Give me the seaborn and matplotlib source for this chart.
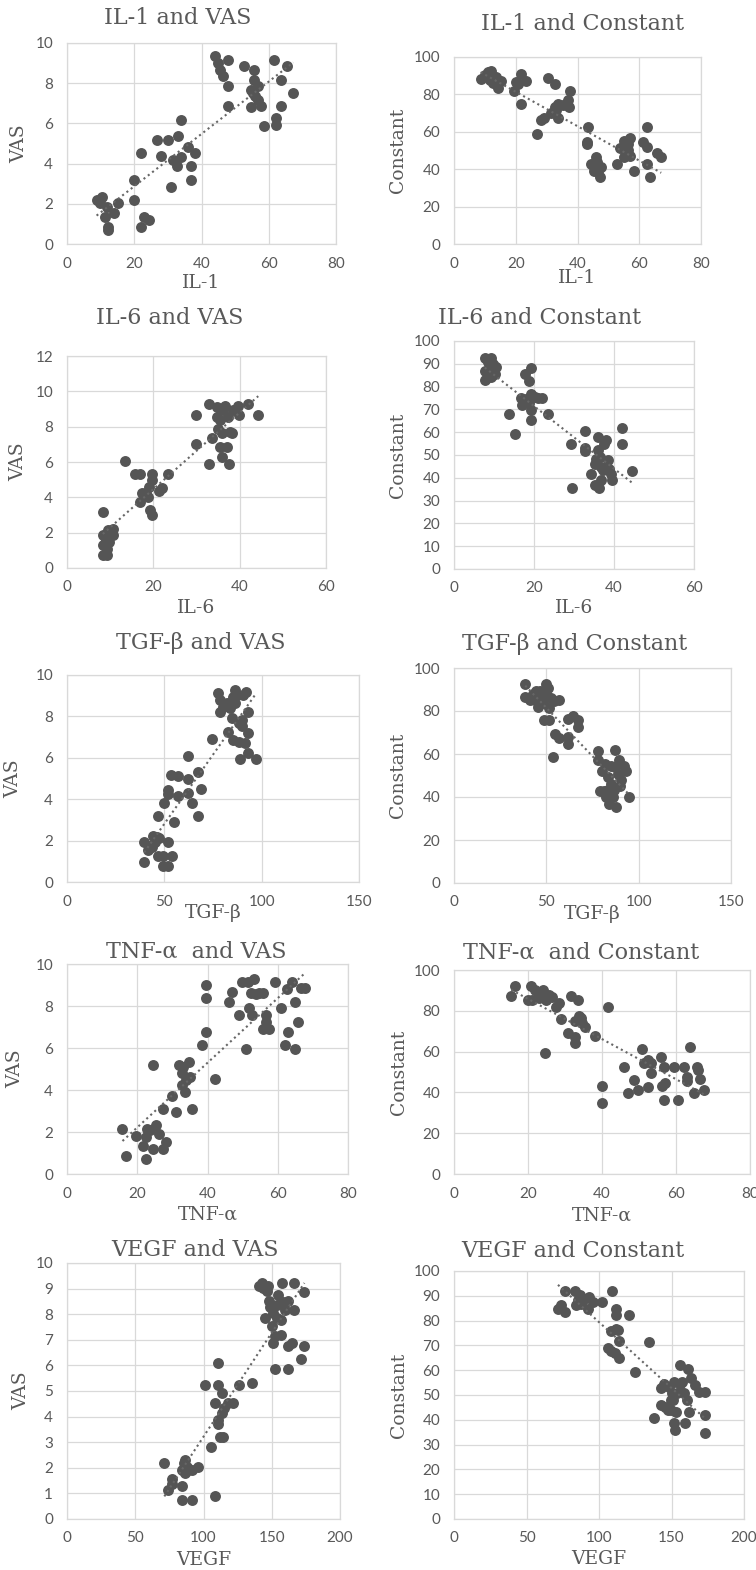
import numpy as np
import pandas as pd
import seaborn as sns
import matplotlib
matplotlib.use("Agg")
import matplotlib.pyplot as plt

# ---------------- data ----------------
il1_vas_x = [8.8, 10.3, 9.8, 11.8, 11.4, 12.1, 12.1, 14.1, 15.1,
             20, 20, 22, 22, 23, 24.3,
             26.7, 27.9, 29.9, 30.8, 31.6, 32.8, 32.9, 33.9, 33.9, 35.9, 36.9, 36.9, 38.1,
             44, 45, 45.5, 46.3, 47.8, 47.8, 47.8, 52.7,
             54.7, 54.7, 55.2, 55.7, 55.7, 55.9, 56.7, 56.7, 57.7, 58.7,
             61.5, 62.3, 62.3, 63.6, 63.6, 65.5, 67.3]
il1_vas_y = [2.19, 2.36, 2.03, 1.86, 1.36, 0.86, 0.7, 1.53, 2.06,
             3.19, 2.19, 4.55, 0.86, 1.36, 1.2,
             5.18, 4.38, 5.18, 2.86, 4.19, 3.9, 5.35, 6.18, 4.35, 4.85, 3.9, 3.19, 4.52,
             9.33, 9.0, 8.67, 8.34, 9.17, 7.84, 6.88, 8.84,
             7.67, 6.84, 7.5, 8.67, 8.17, 7.34, 7.84, 7.18, 6.88, 5.85,
             9.17, 5.93, 6.26, 8.17, 6.88, 8.84, 7.5]

il1_con_x = [8.6, 11, 12.1, 11.5, 12.6, 14.2, 15.3, 13.7, 9.9,
             19.4, 20.7, 21.8, 23.4, 21.8, 20.2,
             30.4, 32.6, 27, 28.3, 29.3, 31.5, 32.6, 33.6, 33.6, 35.3, 36.9, 37.4, 37.7, 33.1,
             43.3, 43.1, 43.1, 44.4, 45.5, 46.0, 46.4, 46.6, 47.7, 47.4, 45.5,
             52.8, 53.9, 55.2, 56.3, 55.7, 57.1, 57.1, 58.3, 55, 56.3,
             61.2, 62.6, 62.6, 62.6, 63.6, 65.8, 67.1]
il1_con_y = [88.4, 92, 92.5, 87.5, 86, 83.6, 87.2, 89.3, 90.2,
             81.9, 85.8, 90.7, 87.2, 74.7, 86.7,
             89, 85.4, 58.7, 66.2, 67.6, 69.8, 73.3, 75.1, 67.6, 74.2, 76.9, 73, 81.9, 71.5,
             62.3, 54.6, 53.4, 42.7, 41.3, 46.6, 43.9, 39.1, 41.3, 35.9, 38.8,
             42.7, 51.1, 55.2, 53.7, 48.4, 56.9, 46.9, 39.1, 46.6, 50.2,
             54.6, 52, 62.3, 42.7, 35.6, 48.4, 46.3]

il6_vas_x = [8.3, 8.3, 8.4, 8.4, 9.2, 9.0, 9.5, 10.3, 10.7, 10.7, 9.7, 9.2,
             13.5, 15.8, 16.8, 16.8, 17.3, 18.2, 18.8, 19.0, 19.6, 19.8, 19.2, 19.8, 21.2, 22.1, 23.5,
             29.8, 29.8, 33, 33, 33.7, 34.8, 35, 35.4, 35.8, 36.2, 36.6, 37, 37.4, 37.6, 37.8,
             38.3, 38.5, 39.7, 39.9, 42, 44.3, 35.4, 35.8, 34.7]
il6_vas_y = [3.18, 1.85, 1.29, 0.72, 0.72, 1.57, 2.14, 1.95, 2.23, 1.85, 1.47, 1.10,
             6.05, 5.31, 5.31, 3.74, 4.22, 4.22, 4.03, 4.59, 4.97, 5.31, 3.27, 2.99, 4.37, 4.54, 5.31,
             8.66, 7.01, 9.26, 5.88, 7.37, 9.13, 7.86, 6.86, 6.29, 8.94, 9.17, 6.86, 8.56, 5.86, 7.71,
             7.62, 8.94, 9.17, 8.66, 9.28, 8.66, 8.37, 7.62, 8.56]

il6_con_x = [7.8, 8.5, 9.3, 9.75, 7.7, 7.7, 8.5, 9.3, 10.3, 10.6, 9.2, 8.9,
             13.75, 15.3, 16.8, 17, 17.7, 18.1, 18.7, 18.7, 19.3, 19.3, 19.3, 19.3, 20.2, 21, 22.1, 23.5,
             29.3, 29.6, 32.7, 32.8, 32.8, 34.3, 35.2, 35.3, 35.6, 36, 36, 36.2, 36.8, 36.8, 37.5,
             37.9, 38.5, 38.75, 39.3, 39.6, 42, 42, 44.5, 36.4, 37.25]
il6_con_y = [92.7, 90.8, 92.7, 90, 82.7, 86.8, 84.2, 84.2, 85.4, 88.6, 87.1, 88.6,
             67.8, 59.4, 75.1, 71.8, 85.7, 74.4, 82.5, 73, 88.2, 76.6, 69.6, 65.2, 75.4, 75.1, 75.1, 67.8,
             54.7, 35.5, 60.5, 53.2, 51.8, 41.5, 36.7, 46.2, 48.4, 57.9, 52, 35.5, 44.7, 38.9, 54.7,
             56.4, 47.7, 44, 41.8, 38.9, 62, 54.7, 43, 49.1, 43.3]

tgf_vas_x = [39.7, 39.7, 41.4, 42.6, 44.3, 45.2, 46.4, 46.9, 47.4, 49.5, 52.1, 49.5, 51.7, 53.8, 43.5,
             46.6, 49.8, 51.7, 51.7, 53.3, 55.1, 56.8, 56.8, 62, 62.3, 62, 64, 67.1, 67.1, 68.8,
             74.5, 77.4, 78.6, 78.6, 80.3, 82, 82.9, 84.6, 85.4, 86.3, 86.3, 87.5, 88.5, 88.5, 88.9,
             90.1, 90.6, 91.4, 93.2, 93.2, 93.2, 92, 97.1, 85.4, 83.7, 89.7]
tgf_vas_y = [0.95, 1.91, 1.56, 1.75, 2.2, 1.91, 2.17, 1.24, 2.12, 0.76, 0.76, 1.24, 1.91, 1.27, 1.67,
             3.17, 3.84, 4.45, 4.26, 5.18, 2.88, 5.13, 4.16, 4.97, 6.11, 4.32, 3.84, 5.29, 3.17, 4.49,
             6.91, 9.15, 8.79, 8.23, 8.47, 8.63, 7.27, 7.91, 6.86, 9.28, 8.63, 9.04, 7.7, 6.74, 5.93,
             7.54, 9.04, 6.7, 8.23, 7.22, 6.25, 9.2, 5.93, 8.95, 8.39, 7.83]

tgf_con_x = [38.6, 38.6, 40.9, 42.7, 44.5, 45.4, 47.2, 48.1, 49.6, 50, 50.8, 51.7, 52.6, 54, 57.1,
             49, 51.7, 46.3, 43.6,
             54.8, 56.8, 53.5, 62, 64.3, 67.1, 67.1, 62, 62,
             78.2, 78.2, 78.8, 81.1, 80, 81.5, 83.3, 83.3, 84.2, 85.1, 86, 87.3, 87.4, 87.8,
             88.7, 89.1, 90.1, 90.5, 92.3, 93.2, 94.5, 85.1, 86.9, 82.4]
tgf_con_y = [92.7, 86.5, 85.2, 88, 89.1, 81.8, 86.5, 83.7, 92.7, 88, 90.7, 81.4, 86, 84.5, 84.9,
             75.6, 75.6, 89.1, 85.2,
             69.4, 67.4, 58.5, 76.2, 77.5, 75.6, 72.5, 67.9, 64.8,
             61.6, 57, 43, 43, 52.3, 55.4, 49.5, 43.3, 36.8, 46.1, 40.2, 62, 53.9, 35.2,
             50.8, 57, 44.9, 47.7, 54.2, 52.3, 40.2, 54.2, 43.3, 40.2]

tnf_vas_x = [15.8, 16.8, 19.6, 21.5, 22.5, 22.5, 22.7, 23.6, 24.4, 24.4, 25.3, 26.3, 27.2, 27.2, 28.1,
             30, 31, 31.9, 32.6, 32.6, 33.5, 33.8, 34.8, 35, 35.7, 32.9,
             38.3, 39.5, 39.5, 39.5, 42.2,
             46, 47.1, 49, 49.7, 50.9, 51.4, 51.8, 52.5, 52.8, 53.3, 53.7, 54.7, 55.8, 56.6, 56.6,
             55.8, 57.5, 59.1, 61, 62, 62.9, 62.7, 64, 64.8, 64.8, 65.8, 66.7, 67.7]
tnf_vas_y = [2.14, 0.87, 1.83, 1.35, 1.78, 0.71, 2.13, 2.1, 1.19, 5.19, 2.33, 1.9, 1.19, 3.1, 1.51,
             3.73, 2.97, 5.19, 4.79, 4.24, 3.92, 4.48, 5.35, 4.63, 3.1, 5.11,
             6.14, 9, 8.37, 6.78, 4.52,
             8.21, 8.68, 7.57, 9.16, 5.95, 9.16, 7.89, 8.6, 7.57, 9.27, 8.57, 8.63, 8.63, 7.57, 7.25,
             6.9, 6.9, 9.16, 7.89, 6.14, 6.78, 8.79, 9.16, 5.95, 8.21, 7.25, 8.84, 8.84]

tnf_con_x = [15.5, 16.5, 20, 20.9, 21, 21.8, 22.8, 23.1, 24, 24.9, 25.8, 26.4, 27.6, 28.5, 29,
             31.5, 33.6, 30.9, 32.6, 32.7, 33.7, 32.7, 34.4, 34.5, 35.4, 38, 24.7, 41.5, 39.9, 39.9,
             46, 46.9, 48.7, 49.8, 50.7, 51.4, 52.3, 52.5, 53.2, 53.2, 55.9, 56.2, 56.8, 57, 56.8,
             59.4, 60.6, 62.2, 62.9, 63.1, 63.8, 64.9, 65.8, 66, 66.5, 67.6]
tnf_con_y = [87.3, 92.2, 85.3, 92.2, 85.3, 90.2, 88.6, 86.1, 90.2, 85.3, 87.7, 86.9, 82, 84, 75.8,
             87.3, 85.3, 68.9, 67.3, 64, 77.5, 75.2, 76.3, 73.9, 72.2, 67.6, 59.5, 82, 43.1, 34.6,
             52.6, 39.5, 46.1, 41.2, 61.1, 54.2, 42.5, 55.9, 54.2, 49.3, 57.5, 43.1, 52.6, 44.4, 36.3,
             52.6, 36.3, 52.6, 47.7, 45.8, 62.4, 39.5, 52.3, 51, 46.4, 41.2]

vegf_vas_x = [71.3, 74.2, 76.7, 77.2, 84, 84, 84, 86.4, 86.4, 87.7, 91.8, 91.8, 95.7, 108.4, 86, 88.9,
              101.1, 105.2, 108.4, 110.9, 110.9, 110.9, 110.9, 112.1, 114, 113.3, 113.3, 115, 118.2,
              121.4, 125.8, 135.5,
              140.9, 142.6, 143.8, 145, 146.3, 147.5, 148.2, 149.9, 151.2, 151.2, 152.4, 152.4, 153.6,
              154.1, 154.8, 156.8, 156.8, 157.3, 158, 159.7, 161.7, 162.1, 162.1, 164.6, 166.5, 166.5,
              171.4, 173.9, 173.9, 148.7]
vegf_vas_y = [2.19, 1.15, 1.38, 1.58, 0.76, 1.28, 1.93, 2.3, 1.8, 2.04, 0.76, 1.91, 2.04, 0.89, 2.17, 1.91,
              5.22, 2.82, 4.54, 6.11, 5.22, 3.73, 3.86, 3.21, 3.21, 4.91, 4.15, 4.32, 4.54,
              4.54, 5.22, 5.33,
              9.11, 9.22, 9.02, 7.87, 8.89, 9.11, 8.5, 7.52, 8.04, 6.87, 7.15, 5.85, 8.37,
              7.85, 8.76, 7.78, 7.2, 9.22, 8.46, 8.17, 8.5, 6.74, 5.85, 6.87, 9.22, 8.17,
              6.24, 6.76, 8.85, 8.3]

vegf_con_x = [71.7, 74, 76.8, 76.8, 83.7, 84.4, 85.5, 86.7, 89.7, 92.4, 93.1, 95.9, 102.1, 109.2,
              111.5, 111.5, 111.5, 108.5, 113.1, 113.6, 113.6, 106.2, 108.5, 111.3, 120.5, 124.6,
              134.3, 87.8,
              137.9, 142.5, 143, 144.8, 145.7, 147.6, 149.4, 149.9, 150.3, 151.7, 151.7, 152.2, 152.9,
              154, 155.6, 155.6, 157.2, 158.6, 159.1, 160.9, 161.4, 161.8, 163.7, 166.4, 168.7, 173.3,
              173.3, 173.3, 150.8, 148.5]
vegf_con_y = [84.8, 86.2, 83.5, 91.9, 91.9, 86.2, 88.2, 90.2, 88.8, 84.8, 89.5, 87.5, 87.5, 91.9,
              84.8, 82.1, 76.7, 75.8, 76.1, 71.8, 65.1, 69.1, 67.7, 66.9, 82.1, 59.3,
              71.4, 86.8,
              40.9, 53, 45.8, 54.3, 45.2, 43.8, 47.8, 44.1, 50.8, 55.2, 38.7, 36, 43.1,
              50.8, 54.6, 62, 55.2, 50.8, 38.7, 48.1, 60.6, 43.1, 57, 53.9, 51.2, 51.2,
              41.8, 34.8, 48.1, 53.2]

titles = ["IL-1 and VAS", "IL-1 and Constant", "IL-6 and VAS", "IL-6 and Constant",
          "TGF-β and VAS", "TGF-β and Constant", "TNF-α  and VAS", "TNF-α  and Constant",
          "VEGF and VAS", "VEGF and Constant"]
xlabels = ["IL-1", "IL-1", "IL-6", "IL-6", "TGF-β", "TGF-β", "TNF-α", "TNF-α", "VEGF", "VEGF"]
ylabels = ["VAS", "Constant"] * 5
xticks_list = [[0, 20, 40, 60, 80]] * 2 + [[0, 20, 40, 60]] * 2 + [[0, 50, 100, 150]] * 2 + \
              [[0, 20, 40, 60, 80]] * 2 + [[0, 50, 100, 150, 200]] * 2
yticks_list = [list(range(0, 11, 2)), list(range(0, 101, 20)),
               list(range(0, 13, 2)), list(range(0, 101, 10)),
               list(range(0, 11, 2)), list(range(0, 101, 20)),
               list(range(0, 11, 2)), list(range(0, 101, 20)),
               list(range(0, 11, 1)), list(range(0, 101, 10))]

series = [(il1_vas_x, il1_vas_y), (il1_con_x, il1_con_y), (il6_vas_x, il6_vas_y),
          (il6_con_x, il6_con_y), (tgf_vas_x, tgf_vas_y), (tgf_con_x, tgf_con_y),
          (tnf_vas_x, tnf_vas_y), (tnf_con_x, tnf_con_y), (vegf_vas_x, vegf_vas_y),
          (vegf_con_x, vegf_con_y)]

# ---------------- layout (pixels) ----------------
W, H = 756, 1570
# left, right, top, bottom of plot area
boxes = [(67, 336, 43, 244), (454, 701, 57, 244),
         (67, 326, 356, 568), (454, 694, 341, 569),
         (67, 359, 675, 882), (454, 731, 668, 883),
         (67, 348, 964, 1174), (454, 750, 970, 1174),
         (67, 340, 1263, 1519), (454, 744, 1271, 1519)]
title_pos = [(178, 18), (583, 24), (170, 318), (540, 318), (201, 643), (575, 644),
             (196, 952), (581, 953), (195, 1250), (573, 1251)]
ylabel_x = [19, 398, 18, 398, 13, 398, 15, 399, 21, 399]
xlabel_y = [283, 278, 608, 608, 913, 914, 1215, 1216, 1560, 1559]

sns.set_theme(style="white")
plt.rcParams["font.family"] = ["Lato", "DejaVu Sans"]

TXT = "#595959"
DOT = "#555555"
GRID = "#d9d9d9"
SERIF = ["DejaVu Serif"]

fig = plt.figure(figsize=(W / 100, H / 100), dpi=100)
fig.patch.set_facecolor("white")

for i, ((xs, ys), (l, r, t, b)) in enumerate(zip(series, boxes)):
    ax = fig.add_axes([l / W, 1 - b / H, (r - l) / W, (b - t) / H])
    df = pd.DataFrame({"x": xs, "y": ys})
    sns.regplot(data=df, x="x", y="y", ax=ax, ci=None,
                scatter_kws=dict(s=62, color=DOT, alpha=1, linewidths=0, zorder=3),
                line_kws=dict(color="#666666", ls=(0, (1, 1.6)), lw=1.5, zorder=4))
    xt, yt = xticks_list[i], yticks_list[i]
    ax.set_xlim(xt[0], xt[-1])
    ax.set_ylim(yt[0], yt[-1])
    ax.set_xticks(xt)
    ax.set_yticks(yt)
    ax.grid(True, color=GRID, lw=0.9)
    ax.set_axisbelow(True)
    for s in ax.spines.values():
        s.set_color(GRID)
        s.set_linewidth(0.9)
    ax.tick_params(axis="both", length=0, labelsize=11, labelcolor=TXT)
    ax.tick_params(axis="x", pad=9)
    ax.tick_params(axis="y", pad=10)
    ax.set_xlabel(xlabels[i], fontfamily=SERIF, fontsize=13.5, color=TXT)
    ax.set_ylabel(ylabels[i], fontfamily=SERIF, fontsize=13.5, color=TXT)
    ax.xaxis.set_label_coords(0.5, (b - xlabel_y[i]) / (b - t))
    ax.yaxis.set_label_coords((ylabel_x[i] - l) / (r - l), 0.5)
    ax.xaxis.label.set_va("center")
    ax.yaxis.label.set_va("center")
    tx, ty = title_pos[i]
    fig.text(tx / W, 1 - ty / H, titles[i], ha="center", va="center",
             fontfamily=SERIF, fontsize=16, color=TXT)

fig.savefig("out.png", dpi=100, facecolor="white")
